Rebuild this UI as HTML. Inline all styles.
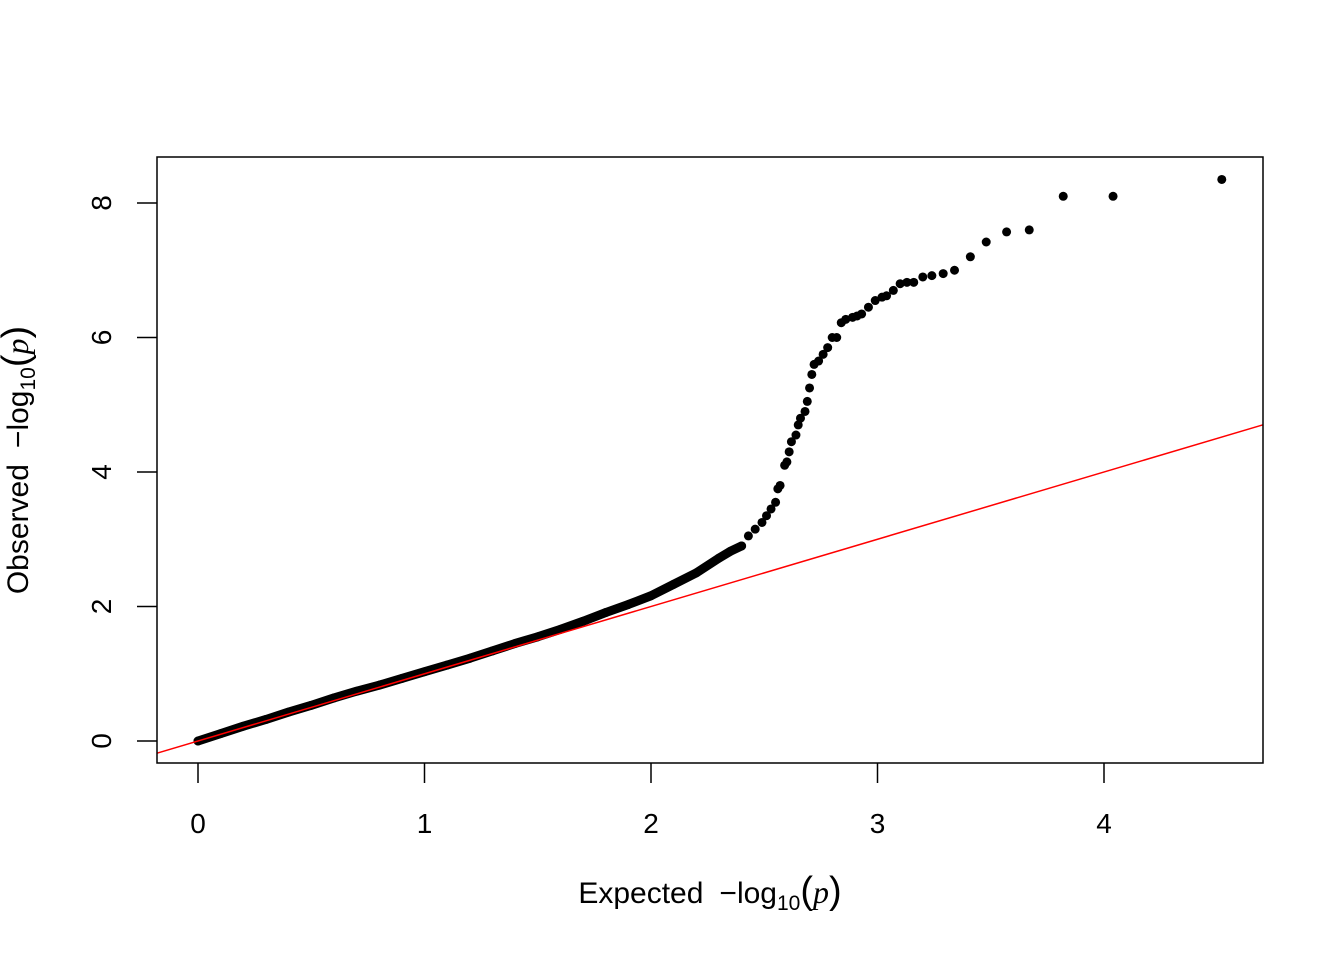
<!DOCTYPE html>
<html><head><meta charset="utf-8"><style>
html,body{margin:0;padding:0;background:#fff;}
svg{display:block;font-family:"Liberation Sans",Arial,sans-serif;}
</style></head><body>
<svg id="chart" width="1344" height="960" viewBox="0 0 1344 960">
<rect x="0" y="0" width="1344" height="960" fill="#fff"/>
<g id="marks"></g>
<rect x="157" y="157" width="1106" height="606" fill="none" stroke="#000" stroke-width="1.5"/>
<g id="axes"></g>
<text x="710" y="903" font-size="30" text-anchor="middle">Expected<tspan dx="16">−log</tspan><tspan font-size="21" dy="7">10</tspan><tspan dy="-7" font-size="38">(</tspan><tspan font-style="italic" font-family="Liberation Serif,serif" font-size="32">p</tspan><tspan font-size="38">)</tspan></text>
<text transform="translate(28,460) rotate(-90)" font-size="30" text-anchor="middle">Observed<tspan dx="16">−log</tspan><tspan font-size="21" dy="7">10</tspan><tspan dy="-7" font-size="38">(</tspan><tspan font-style="italic" font-family="Liberation Serif,serif" font-size="32">p</tspan><tspan font-size="38">)</tspan></text>
</svg>
<script>
const expectedDense = [0,0.1,0.2,0.3,0.4,0.5,0.6,0.7,0.8,0.9,1.0,1.1,1.2,1.3,1.4,1.5,1.6,1.7,1.8,1.9,2.0,2.1,2.2,2.3,2.35,2.4];
const observedDense = [0,0.11,0.22,0.32,0.43,0.53,0.64,0.74,0.83,0.93,1.03,1.13,1.23,1.34,1.45,1.55,1.66,1.78,1.91,2.03,2.16,2.33,2.5,2.72,2.82,2.9];
const expectedTail = [2.43,2.46,2.49,2.51,2.53,2.55,2.56,2.57,2.59,2.60,2.61,2.62,2.64,2.65,2.66,2.68,2.69,2.70,2.71,2.72,2.74,2.76,2.78,2.80,2.82,2.84,2.86,2.89,2.91,2.93,2.96,2.99,3.02,3.04,3.07,3.10,3.13,3.16,3.20,3.24,3.29,3.34,3.41,3.48,3.57,3.67,3.82,4.04,4.52];
const observedTail = [3.05,3.15,3.25,3.35,3.45,3.55,3.75,3.8,4.1,4.15,4.3,4.45,4.55,4.7,4.8,4.9,5.05,5.25,5.45,5.6,5.65,5.75,5.85,6.0,6.0,6.22,6.27,6.3,6.32,6.35,6.45,6.55,6.6,6.62,6.7,6.8,6.82,6.82,6.9,6.92,6.95,7.0,7.2,7.42,7.57,7.6,8.1,8.1,8.35];
const xTicks = [0,1,2,3,4];
const yTicks = [0,2,4,6,8];
const NS='http://www.w3.org/2000/svg';
const xs = v => 198 + v*226.5;
const ys = v => 741 - v*67.25;
const marks = document.getElementById('marks');
const axes = document.getElementById('axes');
function mk(tag, attrs, parent){const e=document.createElementNS(NS,tag);for(const k in attrs)e.setAttribute(k,attrs[k]);parent.appendChild(e);return e;}
let d='';
expectedDense.forEach((e,i)=>{d+=(i?'L':'M')+xs(e)+','+ys(observedDense[i]);});
const band=mk('path',{d:d,fill:'none',stroke:'#000','stroke-width':9,'stroke-linecap':'round','stroke-linejoin':'round'},marks);


expectedDense.concat(expectedTail).forEach((e,i)=>{
  const o = i<expectedDense.length ? observedDense[i] : observedTail[i-expectedDense.length];
  const c=mk('circle',{cx:xs(e),cy:ys(o),r:4.5,fill:'#000'},marks);
  
  
});
const ln=mk('line',{x1:157,y1:ys((157-198)/226.5),x2:1263,y2:ys((1263-198)/226.5),stroke:'#ff0000','stroke-width':1.5},marks);


xTicks.forEach(t=>{
  const l=mk('line',{x1:xs(t),y1:763,x2:xs(t),y2:783,stroke:'#000','stroke-width':1.5},axes);
  
  
  const tx=mk('text',{x:xs(t),y:833,'font-size':28,'text-anchor':'middle'},axes);
  tx.textContent=t;
  
  
});
yTicks.forEach(t=>{
  const l=mk('line',{x1:137,y1:ys(t),x2:157,y2:ys(t),stroke:'#000','stroke-width':1.5},axes);
  
  
  const tx=mk('text',{transform:'translate(111,'+ys(t)+') rotate(-90)','font-size':28,'text-anchor':'middle'},axes);
  tx.textContent=t;
  
  
});
</script>
</body></html>
